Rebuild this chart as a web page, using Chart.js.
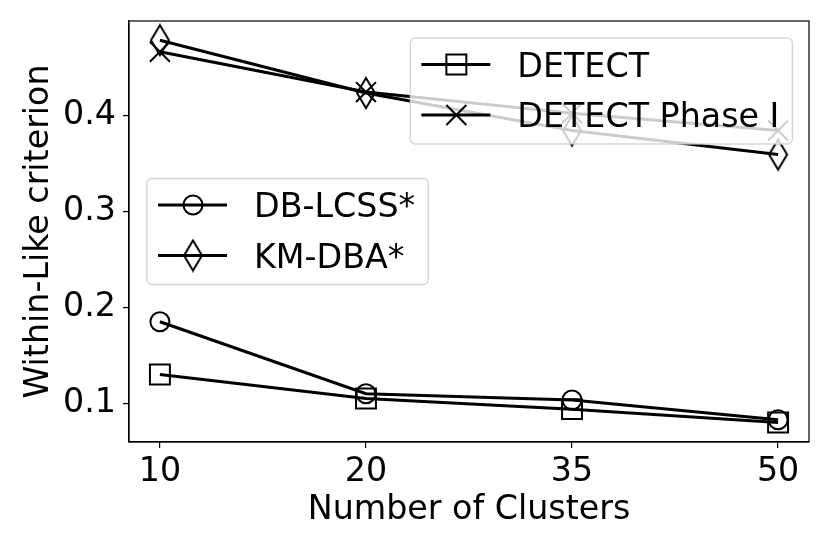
<!DOCTYPE html>
<html>
<head>
<meta charset="utf-8">
<script src="https://cdn.jsdelivr.net/npm/chart.js@4.4.1/dist/chart.umd.min.js"></script>
<style>
  html, body { margin: 0; padding: 0; background: #fff; }
</style>
</head>
<body>
<canvas id="clusterChart" width="830" height="554"></canvas>
<script>
const clusterLabels = ['10', '20', '35', '50'];
const detectValues = [0.130, 0.105, 0.094, 0.080];
const detectPhase1Values = [0.466, 0.424, 0.402, 0.384];
const dbLcssValues = [0.185, 0.110, 0.1035, 0.083];
const kmDbaValues = [0.478, 0.423, 0.384, 0.359];
const yTickValues = [0.1, 0.2, 0.3, 0.4];

const FONT = '"DejaVu Sans", sans-serif';
const FS = 33.3;

// thin diamond marker like matplotlib 'd', hollow
function thinDiamond() {
    const c = document.createElement('canvas');
    c.width = 22;
    c.height = 34;
    const g = c.getContext('2d');
    g.strokeStyle = '#000';
    g.lineWidth = 2;
    g.beginPath();
    g.moveTo(11, 2);
    g.lineTo(20, 17);
    g.lineTo(11, 32);
    g.lineTo(2, 17);
    g.closePath();
    g.stroke();
    return c;
}

const toPoints = values => values.map((v, i) => ({ x: i, y: v }));

function series(label, values, style, radius) {
    return {
        label: label,
        data: toPoints(values),
        borderColor: '#000',
        borderWidth: 3,
        pointStyle: style,
        pointRadius: radius,
        pointBorderWidth: 2,
        pointBorderColor: '#000',
        pointBackgroundColor: 'rgba(0,0,0,0)',
        tension: 0,
        fill: false
    };
}

// full box around the plot area
const frame = {
    id: 'frame',
    beforeDatasetsDraw(chart) {
        const { ctx, chartArea: a } = chart;
        ctx.save();
        ctx.strokeStyle = '#000';
        ctx.lineWidth = 1.2;
        ctx.strokeRect(a.left, a.top, a.right - a.left, a.bottom - a.top);
        ctx.restore();
    }
};

// two legend boxes drawn inside the axes, over the lines
const insideLegends = {
    id: 'insideLegends',
    afterDatasetsDraw(chart, args, opts) {
        const { ctx, chartArea: a } = chart;
        ctx.save();
        ctx.font = FS + 'px ' + FONT;
        opts.groups.forEach(group => {
            const sets = group.datasets.map(i => chart.data.datasets[i]);
            const textW = Math.max(...sets.map(ds => ctx.measureText(ds.label).width));
            const w = 107 + textW + 13;
            const h = 106;
            let x, y;
            if (group.place === 'upper right') {
                x = a.right - 16.6 - w;
                y = a.top + 17;
            } else {
                x = a.left + 18;
                y = (a.top + a.bottom) / 2 - h / 2;
            }
            ctx.beginPath();
            ctx.roundRect(x, y, w, h, 5);
            ctx.fillStyle = 'rgba(255,255,255,0.8)';
            ctx.fill();
            ctx.strokeStyle = 'rgba(204,204,204,0.8)';
            ctx.lineWidth = 1.4;
            ctx.stroke();

            sets.forEach((ds, k) => {
                const cy = y + 26.5 + k * 50.5;
                ctx.beginPath();
                ctx.moveTo(x + 11, cy);
                ctx.lineTo(x + 80, cy);
                ctx.strokeStyle = '#000';
                ctx.lineWidth = 3;
                ctx.stroke();

                ctx.strokeStyle = '#000';
                ctx.fillStyle = 'rgba(0,0,0,0)';
                ctx.lineWidth = 2;
                Chart.helpers.drawPoint(ctx, {
                    pointStyle: ds.pointStyle,
                    radius: ds.pointRadius,
                    borderWidth: 2,
                    rotation: 0
                }, x + 46, cy);

                ctx.fillStyle = '#000';
                ctx.textAlign = 'left';
                ctx.textBaseline = 'alphabetic';
                ctx.fillText(ds.label, x + 107, cy + 12);
            });
        });
        ctx.restore();
    }
};

new Chart(document.getElementById('clusterChart').getContext('2d'), {
    type: 'line',
    data: {
        datasets: [
            series('DETECT', detectValues, 'rect', 14.1),
            series('DETECT Phase I', detectPhase1Values, 'crossRot', 14.1),
            series('DB-LCSS*', dbLcssValues, 'circle', 9.5),
            series('KM-DBA*', kmDbaValues, thinDiamond(), 10)
        ]
    },
    options: {
        responsive: false,
        animation: false,
        devicePixelRatio: 1,
        layout: { padding: { top: 21, right: 21, left: 0, bottom: 0 } },
        plugins: {
            legend: { display: false },
            tooltip: { enabled: false },
            insideLegends: {
                groups: [
                    { datasets: [0, 1], place: 'upper right' },
                    { datasets: [2, 3], place: 'center left' }
                ]
            }
        },
        scales: {
            x: {
                type: 'linear',
                min: -0.15,
                max: clusterLabels.length - 1 + 0.15,
                afterBuildTicks: scale => {
                    scale.ticks = clusterLabels.map((_, i) => ({ value: i }));
                },
                afterFit: scale => {
                    scale.height = 112;
                    scale.paddingLeft = 0;
                    scale.paddingRight = 0;
                },
                ticks: {
                    color: '#000',
                    font: { family: FONT, size: FS },
                    padding: 4,
                    maxRotation: 0,
                    callback: value => clusterLabels[value]
                },
                grid: {
                    display: true,
                    drawOnChartArea: false,
                    drawTicks: true,
                    tickLength: 6,
                    color: '#000',
                    lineWidth: 1.2
                },
                border: { display: true, color: '#000', width: 1.2 },
                title: {
                    display: true,
                    text: 'Number of Clusters',
                    color: '#000',
                    font: { family: FONT, size: FS },
                    padding: { top: 0, bottom: 24 }
                }
            },
            y: {
                type: 'linear',
                min: 0.0598,
                max: 0.498,
                afterBuildTicks: scale => {
                    scale.ticks = yTickValues.map(v => ({ value: v }));
                },
                afterFit: scale => {
                    scale.width = 129;
                    scale.paddingTop = 0;
                    scale.paddingBottom = 0;
                },
                ticks: {
                    color: '#000',
                    font: { family: FONT, size: FS },
                    padding: 7,
                    callback: value => value.toFixed(1)
                },
                grid: {
                    display: true,
                    drawOnChartArea: false,
                    drawTicks: true,
                    tickLength: 6,
                    color: '#000',
                    lineWidth: 1.2
                },
                border: { display: true, color: '#000', width: 1.2 },
                title: {
                    display: true,
                    text: 'Within-Like criterion',
                    color: '#000',
                    font: { family: FONT, size: FS },
                    padding: { top: 19, bottom: 0 }
                }
            }
        }
    },
    plugins: [frame, insideLegends]
});
</script>
</body>
</html>
